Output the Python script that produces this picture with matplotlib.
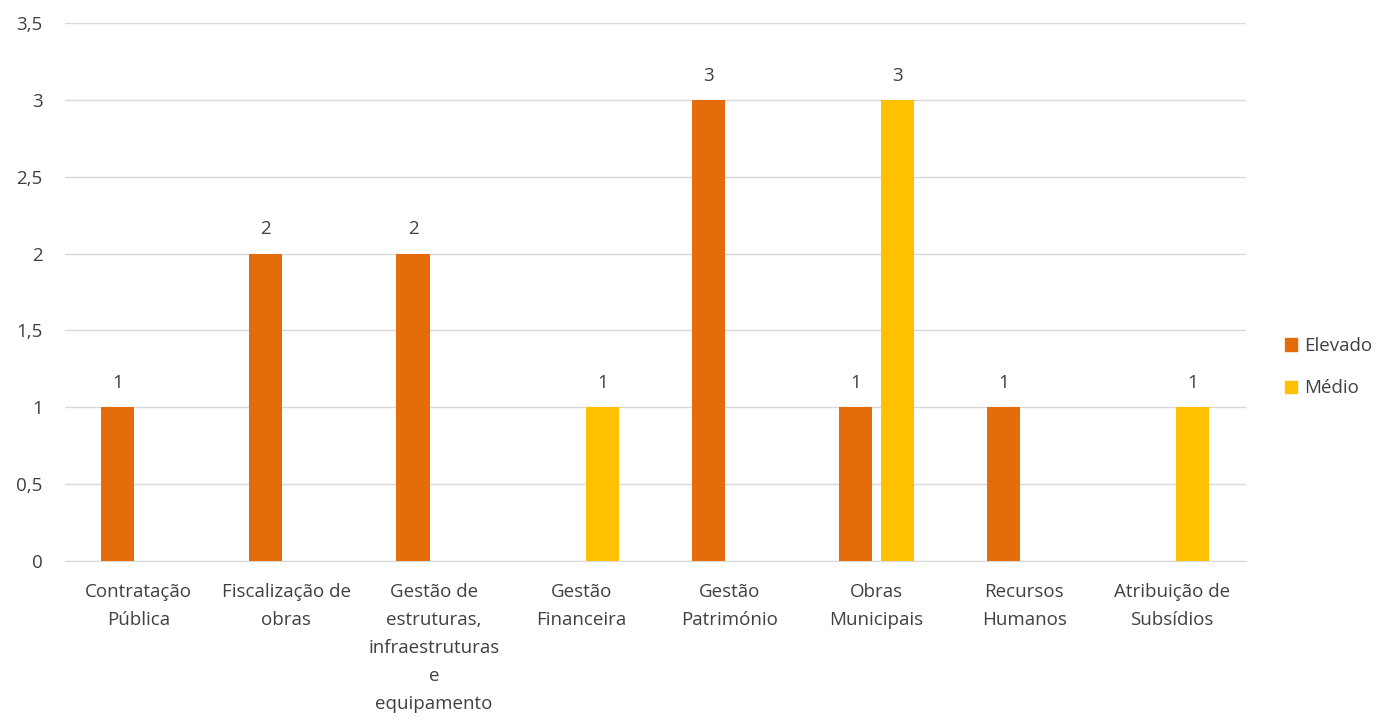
import numpy as np
import matplotlib.pyplot as plt
from matplotlib.patches import Patch

plt.rcParams['font.family'] = ['Open Sans', 'DejaVu Sans']

categorias = ["Contratação\nPública", "Fiscalização de\nobras",
              "Gestão de\nestruturas,\ninfraestruturas\ne\nequipamento",
              "Gestão\nFinanceira", "Gestão\nPatrimónio", "Obras\nMunicipais",
              "Recursos\nHumanos", "Atribuição de\nSubsídios"]
elevado = [1, 2, 2, 0, 3, 1, 1, 0]
medio = [0, 0, 0, 1, 0, 3, 0, 1]
yticks = [0, 0.5, 1, 1.5, 2, 2.5, 3, 3.5]
yticklabels = ["0", "0,5", "1", "1,5", "2", "2,5", "3", "3,5"]

cor_elevado = "#E46C0A"
cor_medio = "#FFC000"
texto = "#404040"
fs = 13.5

fig = plt.figure(figsize=(13.84, 7.2), dpi=100)
ax = fig.add_axes([0.047, 0.221, 0.853, 0.747])

x = np.arange(len(categorias))
w = 0.224
off = 0.142
for xi, v in zip(x, elevado):
    if v:
        ax.bar(xi - off, v, w, color=cor_elevado, zorder=3)
        ax.text(xi - off, v + 0.1, str(v), ha="center", va="bottom", fontsize=fs, color=texto)
for xi, v in zip(x, medio):
    if v:
        ax.bar(xi + off, v, w, color=cor_medio, zorder=3)
        ax.text(xi + off, v + 0.1, str(v), ha="center", va="bottom", fontsize=fs, color=texto)

ax.set_xlim(-0.5, len(categorias) - 0.5)
ax.set_ylim(0, 3.5)
ax.set_yticks(yticks)
ax.set_yticklabels(yticklabels, fontsize=fs, color=texto)
ax.set_xticks(x)
ax.set_xticklabels(categorias, fontsize=fs, color=texto, linespacing=1.72)
ax.tick_params(axis="x", length=0, pad=16)
ax.tick_params(axis="y", length=0, pad=16)
ax.grid(axis="y", color="#D9D9D9", linewidth=1, zorder=0)
for s in ["top", "right", "left"]:
    ax.spines[s].set_visible(False)
ax.spines["bottom"].set_color("#D9D9D9")

handles = [Patch(color=cor_elevado, label="Elevado"), Patch(color=cor_medio, label="Médio")]
leg = fig.legend(handles=handles, loc="center left", bbox_to_anchor=(0.916, 0.49),
                 frameon=False, fontsize=fs, handlelength=0.65, handleheight=0.65,
                 handletextpad=0.4, labelspacing=1.3)
for t in leg.get_texts():
    t.set_color(texto)

fig.savefig("out.png", dpi=100)
